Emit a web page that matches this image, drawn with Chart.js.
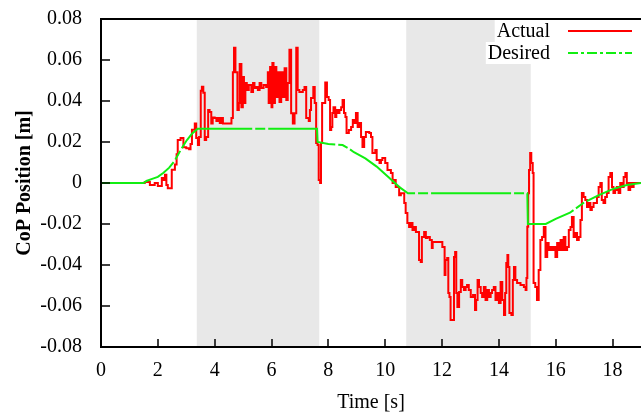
<!DOCTYPE html>
<html>
<head>
<meta charset="utf-8">
<script src="https://cdn.jsdelivr.net/npm/chart.js@4.4.0/dist/chart.umd.min.js"></script>
<style>
  html, body { margin: 0; padding: 0; background: #fff; }
  canvas { display: block; }
</style>
</head>
<body>
<canvas id="copChart" width="641" height="413"></canvas>
<script>
const actualTime = [0, 1.5, 1.54, 1.72, 1.89, 2.0, 2.14, 2.2, 2.25, 2.3, 2.35, 2.49, 2.6, 2.66, 2.7, 2.8, 2.9, 3.0, 3.1, 3.15, 3.2, 3.3, 3.35, 3.41, 3.45, 3.51, 3.55, 3.6, 3.65, 3.7, 3.77, 3.82, 3.88, 3.93, 4.0, 4.06, 4.12, 4.18, 4.24, 4.29, 4.59, 4.64, 4.68, 4.73, 4.8, 4.85, 4.88, 4.94, 4.99, 5.03, 5.08, 5.13, 5.2, 5.29, 5.35, 5.4, 5.46, 5.52, 5.58, 5.64, 5.72, 5.81, 5.87, 5.9, 5.95, 6.0, 6.03, 6.07, 6.12, 6.17, 6.22, 6.28, 6.34, 6.4, 6.46, 6.52, 6.57, 6.63, 6.69, 6.75, 6.81, 6.87, 6.92, 6.98, 7.1, 7.16, 7.22, 7.31, 7.35, 7.39, 7.47, 7.52, 7.57, 7.62, 7.66, 7.71, 7.74, 7.78, 7.89, 7.95, 8.01, 8.06, 8.1, 8.14, 8.18, 8.24, 8.28, 8.33, 8.39, 8.45, 8.5, 8.55, 8.6, 8.64, 8.72, 8.8, 8.86, 8.91, 8.97, 9.03, 9.09, 9.15, 9.2, 9.26, 9.32, 9.44, 9.5, 9.55, 9.65, 9.7, 9.8, 9.85, 9.9, 10.0, 10.08, 10.2, 10.26, 10.3, 10.37, 10.49, 10.55, 10.67, 10.72, 10.78, 10.84, 10.9, 10.96, 11.02, 11.08, 11.19, 11.25, 11.29, 11.37, 11.43, 11.49, 11.57, 11.64, 11.67, 12.01, 12.09, 12.12, 12.18, 12.22, 12.26, 12.3, 12.42, 12.46, 12.5, 12.54, 12.6, 12.66, 12.71, 12.77, 12.83, 12.88, 12.94, 13.01, 13.09, 13.16, 13.2, 13.25, 13.3, 13.36, 13.41, 13.47, 13.53, 13.59, 13.65, 13.71, 13.76, 13.82, 13.88, 13.94, 14.0, 14.06, 14.12, 14.18, 14.22, 14.26, 14.3, 14.33, 14.37, 14.44, 14.49, 14.53, 14.58, 14.64, 14.76, 14.88, 14.94, 14.97, 15.0, 15.03, 15.06, 15.1, 15.14, 15.19, 15.22, 15.28, 15.34, 15.4, 15.46, 15.52, 15.58, 15.64, 15.7, 15.75, 15.81, 15.87, 15.93, 15.99, 16.05, 16.11, 16.17, 16.22, 16.28, 16.34, 16.4, 16.46, 16.52, 16.57, 16.63, 16.69, 16.75, 16.81, 16.87, 16.92, 16.98, 17.04, 17.1, 17.16, 17.22, 17.27, 17.33, 17.45, 17.51, 17.57, 17.62, 17.68, 17.74, 17.8, 17.86, 17.92, 17.98, 18.03, 18.09, 18.15, 18.21, 18.27, 18.33, 18.39, 18.45, 18.5, 18.56, 18.62, 18.68, 18.74, 19.0];
const actualPos = [0, 0, 0.0005, -0.001, 0, -0.0015, 0.0025, 0.0015, 0.004, -0.001, -0.0025, 0.0065, 0.009, 0.014, 0.021, 0.022, 0.0175, 0.017, 0.0165, 0.019, 0.026, 0.029, 0.022, 0.0185, 0.0225, 0.045, 0.047, 0.044, 0.021, 0.0225, 0.0356, 0.0346, 0.029, 0.032, 0.0317, 0.0302, 0.0317, 0.0293, 0.0317, 0.029, 0.0317, 0.054, 0.066, 0.054, 0.0356, 0.039, 0.058, 0.037, 0.0517, 0.039, 0.0488, 0.0454, 0.0478, 0.0444, 0.0488, 0.0463, 0.0468, 0.0454, 0.0488, 0.0463, 0.0478, 0.0468, 0.054, 0.039, 0.0566, 0.037, 0.0585, 0.039, 0.0566, 0.042, 0.054, 0.0395, 0.054, 0.042, 0.056, 0.0405, 0.0488, 0.065, 0.034, 0.029, 0.034, 0.066, 0.0454, 0.0444, 0.0454, 0.0468, 0.0317, 0.0302, 0.0356, 0.0415, 0.0468, 0.039, 0.0195, 0.0185, 0.0015, 0, 0.0195, 0.039, 0.049, 0.042, 0.0405, 0.0259, 0.0273, 0.0341, 0.037, 0.0322, 0.0356, 0.0341, 0.0356, 0.037, 0.0405, 0.0341, 0.0322, 0.0244, 0.0259, 0.0273, 0.0307, 0.0293, 0.0341, 0.0273, 0.0293, 0.0224, 0.0176, 0.0224, 0.0249, 0.0244, 0.0224, 0.0146, 0.0161, 0.0112, 0.0098, 0.0112, 0.0122, 0.0098, 0.0063, 0.0049, 0, 0.0015, -0.002, -0.006, -0.005, -0.0098, -0.0146, -0.0195, -0.0215, -0.0195, -0.0229, -0.0215, -0.0239, -0.0376, -0.0385, -0.0263, -0.0239, -0.0268, -0.0263, -0.0278, -0.0317, -0.0288, -0.0312, -0.0449, -0.0376, -0.0366, -0.0537, -0.0556, -0.0668, -0.0361, -0.0336, -0.0537, -0.0605, -0.0532, -0.0473, -0.0507, -0.0522, -0.0507, -0.0498, -0.0522, -0.0556, -0.0546, -0.062, -0.0571, -0.0473, -0.0507, -0.0537, -0.0556, -0.0507, -0.0571, -0.0522, -0.0556, -0.0537, -0.0522, -0.0507, -0.0571, -0.0537, -0.0585, -0.0483, -0.0571, -0.0644, -0.0537, -0.039, -0.0351, -0.041, -0.0634, -0.0644, -0.0473, -0.041, -0.0473, -0.0488, -0.0498, -0.0507, -0.0522, -0.0463, -0.0214, -0.005, 0.0063, 0.0146, 0.0098, 0.0049, -0.0488, -0.0507, -0.0571, -0.0424, -0.0278, -0.0263, -0.0215, -0.0361, -0.0293, -0.0327, -0.0312, -0.0327, -0.0312, -0.0361, -0.0293, -0.0327, -0.0278, -0.0327, -0.0263, -0.0327, -0.0312, -0.0229, -0.0215, -0.0166, -0.0263, -0.0244, -0.0278, -0.0263, -0.018, -0.0049, -0.0068, -0.0083, -0.0117, -0.0098, -0.0132, -0.0117, -0.0098, -0.0068, -0.002, 0, -0.0083, -0.0098, -0.0068, -0.0049, 0.0029, 0.0049, -0.002, -0.0049, -0.0034, -0.002, -0.0049, 0, -0.002, 0.0029, 0.0049, 0, -0.0034, 0, -0.002, 0, 0];

// reference trajectory
const desiredTime = [0, 1.5, 1.6, 1.8, 2.0, 2.2, 2.4, 2.6, 2.8, 3.0, 3.2, 3.4, 7.6, 7.62, 8.0, 8.5, 8.7, 8.9, 9.3, 9.7, 10.1, 10.5, 10.8, 15.0, 15.02, 15.65, 16.0, 16.5, 17.0, 17.5, 18.0, 18.5, 19.0];
const desiredPos = [0, 0, 0.001, 0.002, 0.003, 0.005, 0.0075, 0.011, 0.016, 0.0205, 0.024, 0.0265, 0.0265, 0.02, 0.019, 0.0185, 0.017, 0.015, 0.012, 0.008, 0.003, -0.002, -0.005, -0.005, -0.02, -0.02, -0.0175, -0.0145, -0.0095, -0.006, -0.003, -0.001, 0];

const shadeStart = [3.37, 10.74];
const shadeEnd = [7.68, 15.12];
const xTicks = [0, 2, 4, 6, 8, 10, 12, 14, 16, 18];
const yTicks = [-0.08, -0.06, -0.04, -0.02, 0, 0.02, 0.04, 0.06, 0.08];
const seriesLabels = ['Actual', 'Desired'];

const RED = '#ff0000';
const GREEN = '#11ee11';
const FONT = 'Liberation Serif';

function toPoints(xs, ys) {
    return xs.map((x, i) => ({ x: x, y: ys[i] }));
}

const decor = {
    id: 'decor',
    beforeDatasetsDraw(chart) {
        const { ctx, chartArea: a, scales: { x } } = chart;
        ctx.save();
        ctx.fillStyle = '#e8e8e8';
        shadeStart.forEach((s, i) => {
            const l = x.getPixelForValue(s);
            const r = x.getPixelForValue(shadeEnd[i]);
            ctx.fillRect(l, a.top, r - l, a.bottom - a.top);
        });
        ctx.restore();
    },
    afterDatasetsDraw(chart) {
        const { ctx, chartArea: a, scales: { x, y } } = chart;
        ctx.save();
        // frame
        ctx.strokeStyle = '#000';
        ctx.lineWidth = 2;
        ctx.beginPath();
        ctx.moveTo(a.right + 2, a.top);
        ctx.lineTo(a.left, a.top);
        ctx.lineTo(a.left, a.bottom);
        ctx.lineTo(a.right + 2, a.bottom);
        ctx.stroke();
        // inward ticks
        ctx.lineWidth = 1.5;
        ctx.beginPath();
        yTicks.forEach(v => {
            const py = Math.round(y.getPixelForValue(v));
            ctx.moveTo(a.left, py);
            ctx.lineTo(a.left + 9, py);
        });
        xTicks.forEach(v => {
            const px = Math.round(x.getPixelForValue(v));
            ctx.moveTo(px, a.bottom);
            ctx.lineTo(px, a.bottom - 8);
        });
        ctx.stroke();

        // key, top right
        ctx.font = '20px "' + FONT + '"';
        ctx.textAlign = 'right';
        ctx.textBaseline = 'middle';
        const rows = [
            { label: seriesLabels[0], cy: 31, color: RED, dash: [] },
            { label: seriesLabels[1], cy: 53, color: GREEN, dash: [10, 3, 3, 3] }
        ];
        rows.forEach(r => {
            const w = ctx.measureText(r.label).width;
            ctx.fillStyle = '#fff';
            ctx.fillRect(550 - w - 2, r.cy - 11, w + 4, 22);
            ctx.fillStyle = '#000';
            ctx.fillText(r.label, 550, r.cy + 1);
            ctx.strokeStyle = r.color;
            ctx.lineWidth = 2;
            ctx.setLineDash(r.dash);
            ctx.beginPath();
            ctx.moveTo(568, r.cy);
            ctx.lineTo(632, r.cy);
            ctx.stroke();
            ctx.setLineDash([]);
        });
        ctx.restore();
    }
};

const ctx = document.getElementById('copChart').getContext('2d');

new Chart(ctx, {
    type: 'line',
    data: {
        datasets: [
            {
                label: seriesLabels[0],
                data: toPoints(actualTime, actualPos),
                borderColor: RED,
                borderWidth: 2,
                pointRadius: 0,
                stepped: true,
                fill: false,
                order: 1
            },
            {
                label: seriesLabels[1],
                data: toPoints(desiredTime, desiredPos),
                borderColor: GREEN,
                borderWidth: 2,
                borderDash: [80, 3, 10, 3],
                pointRadius: 0,
                tension: 0,
                fill: false,
                order: 0
            }
        ]
    },
    options: {
        responsive: false,
        animation: false,
        events: [],
        layout: { padding: { top: 19, left: 0, right: 0, bottom: 0 } },
        plugins: {
            legend: { display: false },
            tooltip: { enabled: false }
        },
        scales: {
            x: {
                type: 'linear',
                min: 0,
                max: 19,
                grid: { display: false, drawTicks: true, tickLength: 12 },
                border: { display: false },
                afterBuildTicks: s => { s.ticks = xTicks.map(v => ({ value: v })); },
                afterFit: s => { s.height = 66; },
                ticks: {
                    padding: 0,
                    maxRotation: 0,
                    color: '#000',
                    font: { family: FONT, size: 20 }
                },
                title: {
                    display: true,
                    text: 'Time [s]',
                    color: '#000',
                    font: { family: FONT, size: 20, lineHeight: 1 },
                    padding: { top: 0, bottom: 0 }
                }
            },
            y: {
                type: 'linear',
                min: -0.08,
                max: 0.08,
                grid: { display: false, drawTicks: true, tickLength: 19 },
                border: { display: false },
                afterBuildTicks: s => { s.ticks = yTicks.map(v => ({ value: v })); },
                afterFit: s => { s.width = 101; },
                ticks: {
                    padding: 0,
                    color: '#000',
                    font: { family: FONT, size: 20 },
                    callback: v => String(Math.round(v * 100) / 100)
                },
                title: {
                    display: true,
                    text: 'CoP Position [m]',
                    color: '#000',
                    font: { family: FONT, size: 20, weight: 'bold', lineHeight: 1 },
                    padding: { top: 15, bottom: 0 }
                }
            }
        }
    },
    plugins: [decor]
});
</script>
</body>
</html>
